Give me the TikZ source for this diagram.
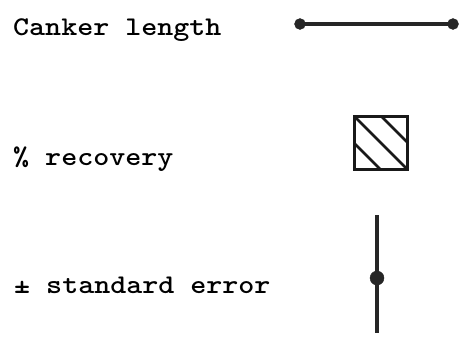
\documentclass[tikz,border=0pt]{standalone}
\usepackage{fontspec}
\usepackage{graphicx}
\newcommand{\widetxt}[1]{\scalebox{1.13}[1]{#1}}
\begin{document}
\begin{tikzpicture}[x=1pt,y=-1pt,
  lbl/.style={anchor=base west,inner sep=0pt,font=\ttfamily\bfseries\fontsize{27}{30}\selectfont},
  dot/.style={circle,fill=black!85,draw=black!85,inner sep=0pt,minimum size=#1},
  bar/.style={line width=3.2pt,draw=black!85},
  hatchbox/.style={draw=black!90,line width=3pt,minimum size=53pt,inner sep=0pt,
    path picture={
      \foreach \o in {-27,0,27}{
        \draw[line width=2.6pt,black!90]
          ([xshift=\o pt]path picture bounding box.north west) --
          ([xshift=\o pt]path picture bounding box.south east);}
    }}]
\useasboundingbox (0,0) rectangle (462,338);
% text labels
\node[lbl] (canker) at (13,35) {\widetxt{Canker length}};
\node[lbl] (recov) at (13,165) {\widetxt{\% recovery}};
\node[lbl] (stderr) at (14,293) {\widetxt{± standard error}};
% canker length symbol
\node[dot=11pt] (cl1) at (300,24) {};
\node[dot=11pt] (cl2) at (453,24) {};
\draw[bar] (cl1.center) -- (cl2.center);
% hatched box
\node[hatchbox] (hb) at (381,143) {};
% standard error symbol
\coordinate (etop) at (377,215);
\coordinate (ebot) at (377,333);
\node[dot=14pt] (emid) at (377,278) {};
\draw[line width=3.5pt,black!85] (etop) -- (ebot);
\end{tikzpicture}
\end{document}
